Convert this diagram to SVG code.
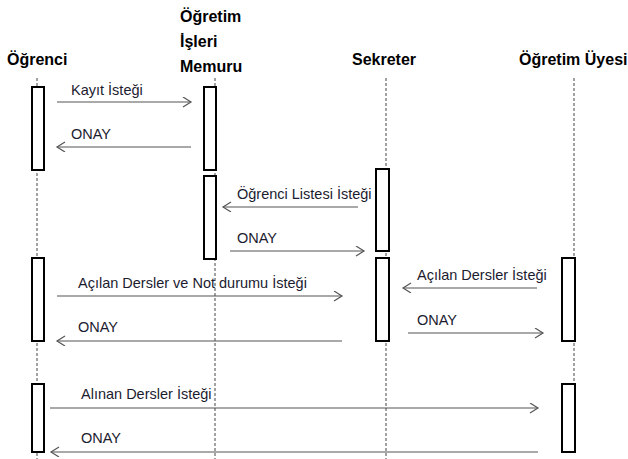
<svg xmlns="http://www.w3.org/2000/svg" width="628" height="459" viewBox="0 0 628 459">
<style>
.hdr{font-family:"Liberation Sans",Arial,sans-serif;font-weight:bold;font-size:16px;fill:#000}
.lbl{font-family:"Liberation Sans",Arial,sans-serif;font-size:14.5px;fill:#1c1c30}
.life{stroke:#444;stroke-width:1;stroke-dasharray:3,2;fill:none}
.act{fill:#fff;stroke:#000;stroke-width:2}
.msg{stroke:#555;stroke-width:1.2;fill:none;marker-end:url(#ah)}
</style>
<defs>
<marker id="ah" markerWidth="12" markerHeight="12" refX="9" refY="5" orient="auto" markerUnits="userSpaceOnUse">
<path d="M1,0 L9,5 L1,10" fill="none" stroke="#555" stroke-width="1.2"/>
</marker>
</defs>
<rect width="628" height="459" fill="#fff"/>
<g id="ogrenci">
<text class="hdr" x="7" y="65">Öğrenci</text>
<line class="life" x1="37" y1="78" x2="37" y2="459"/>
<rect class="act" x="32" y="87" width="12" height="83"/>
<rect class="act" x="32" y="258" width="12" height="83"/>
<rect class="act" x="32" y="384" width="12" height="68"/>
</g>
<g id="memur">
<text class="hdr" x="180" y="22">Öğretim</text>
<text class="hdr" x="180" y="47">İşleri</text>
<text class="hdr" x="180" y="72">Memuru</text>
<line class="life" x1="215" y1="78" x2="215" y2="459"/>
<rect class="act" x="204" y="87" width="12" height="83"/>
<rect class="act" x="204" y="176" width="12" height="83"/>
</g>
<g id="sekreter">
<text class="hdr" x="352" y="65">Sekreter</text>
<line class="life" x1="386" y1="78" x2="386" y2="459"/>
<rect class="act" x="376" y="169" width="13" height="82"/>
<rect class="act" x="376" y="258" width="13" height="83"/>
</g>
<g id="uye">
<text class="hdr" x="519" y="65">Öğretim Üyesi</text>
<line class="life" x1="574" y1="78" x2="574" y2="384"/>
<rect class="act" x="562" y="258" width="13" height="83"/>
<rect class="act" x="562" y="384" width="13" height="68"/>
</g>
<g id="connectors">
<line class="msg" x1="57" y1="102" x2="191" y2="102"/>
<text class="lbl" x="71" y="95">Kayıt İsteği</text>
<line class="msg" x1="191" y1="147" x2="57" y2="147"/>
<text class="lbl" x="71" y="139">ONAY</text>
<line class="msg" x1="358" y1="207" x2="223" y2="207"/>
<text class="lbl" x="237" y="199">Öğrenci Listesi İsteği</text>
<line class="msg" x1="230" y1="251" x2="364" y2="251"/>
<text class="lbl" x="237" y="243">ONAY</text>
<line class="msg" x1="57" y1="296" x2="342" y2="296"/>
<text class="lbl" x="78" y="288">Açılan Dersler ve Not durumu İsteği</text>
<line class="msg" x1="537" y1="288" x2="403" y2="288"/>
<text class="lbl" x="417" y="280">Açılan Dersler İsteği</text>
<line class="msg" x1="408" y1="333" x2="543" y2="333"/>
<text class="lbl" x="417" y="325">ONAY</text>
<line class="msg" x1="342" y1="341" x2="57" y2="341"/>
<text class="lbl" x="78" y="332">ONAY</text>
<line class="msg" x1="50" y1="408" x2="538" y2="408"/>
<text class="lbl" x="81" y="399">Alınan Dersler İsteği</text>
<line class="msg" x1="538" y1="452" x2="51" y2="452"/>
<text class="lbl" x="81" y="443">ONAY</text>
</g>
</svg>
